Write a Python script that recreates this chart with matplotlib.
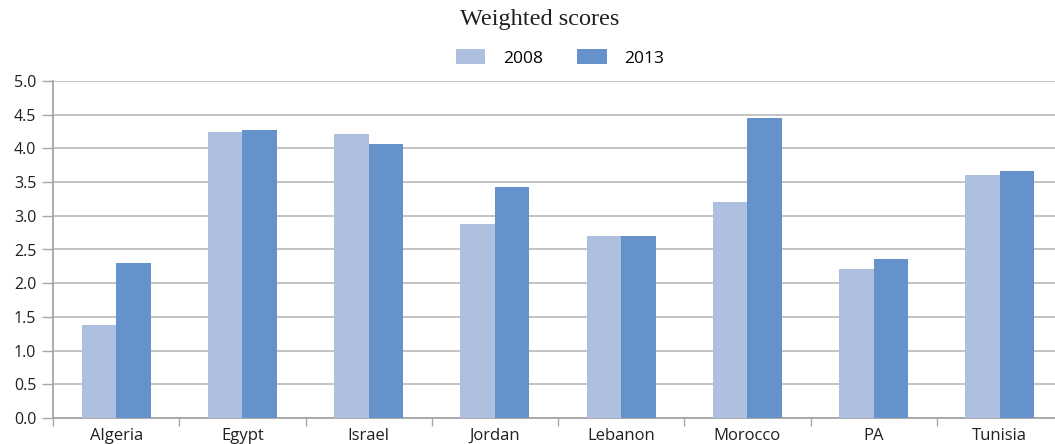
import numpy as np
import matplotlib.pyplot as plt

countries = ["Algeria", "Egypt", "Israel", "Jordan", "Lebanon", "Morocco", "PA", "Tunisia"]
scores_2008 = [1.38, 4.24, 4.21, 2.88, 2.70, 3.20, 2.21, 3.60]
scores_2013 = [2.30, 4.27, 4.06, 3.43, 2.70, 4.45, 2.36, 3.66]
yticks = [0.0, 0.5, 1.0, 1.5, 2.0, 2.5, 3.0, 3.5, 4.0, 4.5, 5.0]

light = "#AEBFE0"
dark = "#6592CB"
grid_col = "#BEBEBE"

plt.rcParams['font.family'] = ['Open Sans', 'DejaVu Sans']

fig = plt.figure(figsize=(10.55, 4.44), dpi=100)
ax = fig.add_axes([53 / 1055, 26 / 444, 1010 / 1055, 337 / 444])

x = np.arange(len(countries))
w = 0.273
ax.bar(x - w / 2, scores_2008, width=w, color=light, label="2008", zorder=3)
ax.bar(x + w / 2, scores_2013, width=w, color=dark, label="2013", zorder=3)

ax.set_xlim(-0.5, len(countries) - 0.5)
ax.set_ylim(0, 5)
ax.set_yticks(yticks)
ax.set_yticklabels([f"{v:.1f}" for v in yticks], fontsize=11.5, color="#231F20")
ax.yaxis.grid(True, color=grid_col, linewidth=1.3, zorder=0)
ax.tick_params(axis="y", length=8, color="#A6A6A6", width=1, pad=4)

ax.set_xticks(x)
ax.set_xticklabels(countries, fontsize=12, color="#231F20")
ax.tick_params(axis="x", length=0, pad=7)
ax.set_xticks(np.arange(len(countries) + 1) - 0.5, minor=True)
ax.tick_params(axis="x", which="minor", length=6, color="#A6A6A6", width=1)

for s in ["top", "right"]:
    ax.spines[s].set_visible(False)
for s in ["left", "bottom"]:
    ax.spines[s].set_color("#A6A6A6")
    ax.spines[s].set_linewidth(1.3)

fig.text(540 / 1055, 1 - 20 / 444, "Weighted scores", ha="center", va="center",
         fontsize=17.5, family="Liberation Serif", color="#231F20")
fig.legend(loc="center", bbox_to_anchor=(560 / 1055, 1 - 58 / 444), ncol=2,
           frameon=False, fontsize=12.5, handlelength=1.7, handleheight=0.9,
           columnspacing=2.0, handletextpad=1.0)

fig.savefig("out.png", dpi=100)
